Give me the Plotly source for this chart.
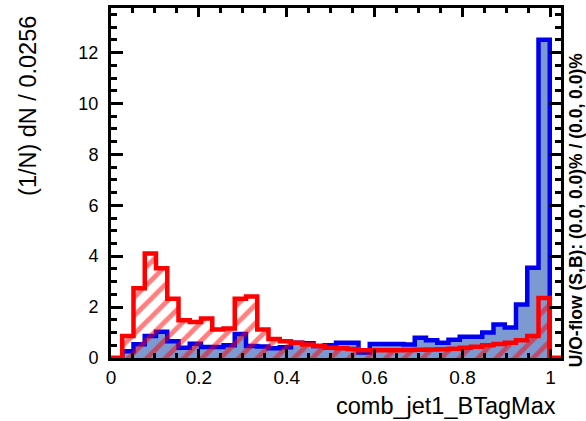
import numpy as np
import plotly.graph_objects as go

# ---- data ----
bin_width = 0.0256
n_bins = 40
x_min = 0.0
signal = [0.0, 0.27, 0.54, 0.86, 1.03, 0.66, 0.40, 0.56, 0.43, 0.43,
          0.50, 0.94, 0.47, 0.45, 0.38, 0.42, 0.60, 0.58, 0.47, 0.50,
          0.60, 0.60, 0.22, 0.55, 0.55, 0.55, 0.53, 0.80, 0.70, 0.60,
          0.72, 0.83, 0.83, 1.00, 1.32, 1.20, 2.10, 3.55, 12.5, 0.0]
background = [0.0, 0.86, 2.74, 4.11, 3.53, 2.33, 1.48, 1.41, 1.55, 1.12,
              1.16, 2.33, 2.42, 1.12, 0.75, 0.66, 0.60, 0.53, 0.47, 0.40,
              0.38, 0.35, 0.30, 0.30, 0.30, 0.30, 0.31, 0.32, 0.33, 0.34,
              0.36, 0.40, 0.44, 0.50, 0.55, 0.60, 0.70, 0.86, 2.36, 0.0]
x_ticks = [0, 0.2, 0.4, 0.6, 0.8, 1]
x_tick_labels = ["0", "0.2", "0.4", "0.6", "0.8", "1"]
y_ticks = [0, 2, 4, 6, 8, 10, 12]
x_title = "comb_jet1_BTagMax"
y_title = "(1/N) dN / 0.0256"
side_text = "U/O-flow (S,B): (0.0, 0.0)% / (0.0, 0.0)%"

edges = x_min + bin_width * np.arange(n_bins + 1)
x_max = edges[-1]

def step_y(vals):
    return list(vals) + [vals[-1]]

FONT = "Liberation Sans, Arial, Helvetica, sans-serif"

fig = go.Figure()
fig.add_trace(go.Scatter(
    x=edges, y=step_y(signal), mode="lines", line_shape="hv",
    line=dict(color="#0000ee", width=4.5),
    fill="tozeroy", fillcolor="#7d99d1", showlegend=False,
))
fig.add_trace(go.Scatter(
    x=edges, y=step_y(background), mode="lines", line_shape="hv",
    line=dict(color="#ff0000", width=4.5),
    fill="tozeroy", fillcolor="rgba(0,0,0,0)",
    fillpattern=dict(shape="/", fgcolor="#ff0000", bgcolor="rgba(0,0,0,0)",
                     size=13, solidity=0.38),
    showlegend=False,
))

fig.update_layout(
    width=586, height=421,
    margin=dict(l=111, r=25, t=5, b=63),
    paper_bgcolor="white", plot_bgcolor="white",
    font=dict(family=FONT, color="black", size=17),
)
fig.update_xaxes(
    range=[x_min, x_max], tickvals=x_ticks, ticktext=x_tick_labels,
    ticks="inside", ticklen=9, tickwidth=2.5, tickcolor="black",
    minor=dict(dtick=0.05, ticks="inside", ticklen=5, tickwidth=2.5, tickcolor="black"),
    showline=True, linewidth=3, linecolor="black", mirror="ticks",
    showgrid=False, zeroline=False, tickfont=dict(size=19),
)
fig.update_yaxes(
    range=[0, 13.75], tickvals=y_ticks,
    ticks="inside", ticklen=12, tickwidth=2.5, tickcolor="black",
    minor=dict(dtick=0.5, ticks="inside", ticklen=6, tickwidth=2.5, tickcolor="black"),
    showline=True, linewidth=3, linecolor="black", mirror="ticks",
    showgrid=False, zeroline=False, tickfont=dict(size=18), ticklabelstandoff=6,
)

fig.add_annotation(text=x_title, xref="paper", yref="paper",
                   x=(558 - 111) / 450, y=(358 - 406) / 353,
                   xanchor="right", yanchor="middle", showarrow=False,
                   font=dict(size=23.5, family=FONT))
fig.add_annotation(text=y_title, xref="paper", yref="paper",
                   x=(28 - 111) / 450, y=(358 - 11) / 353,
                   xanchor="center", yanchor="top", textangle=-90, showarrow=False,
                   font=dict(size=23.5, family=FONT))
fig.add_annotation(text="<b>" + side_text + "</b>", xref="paper", yref="paper",
                   x=(576 - 111) / 450, y=(358 - 209) / 353,
                   xanchor="center", yanchor="middle", textangle=-90, showarrow=False,
                   font=dict(size=17.5, family=FONT))

fig.write_html("out.html")
